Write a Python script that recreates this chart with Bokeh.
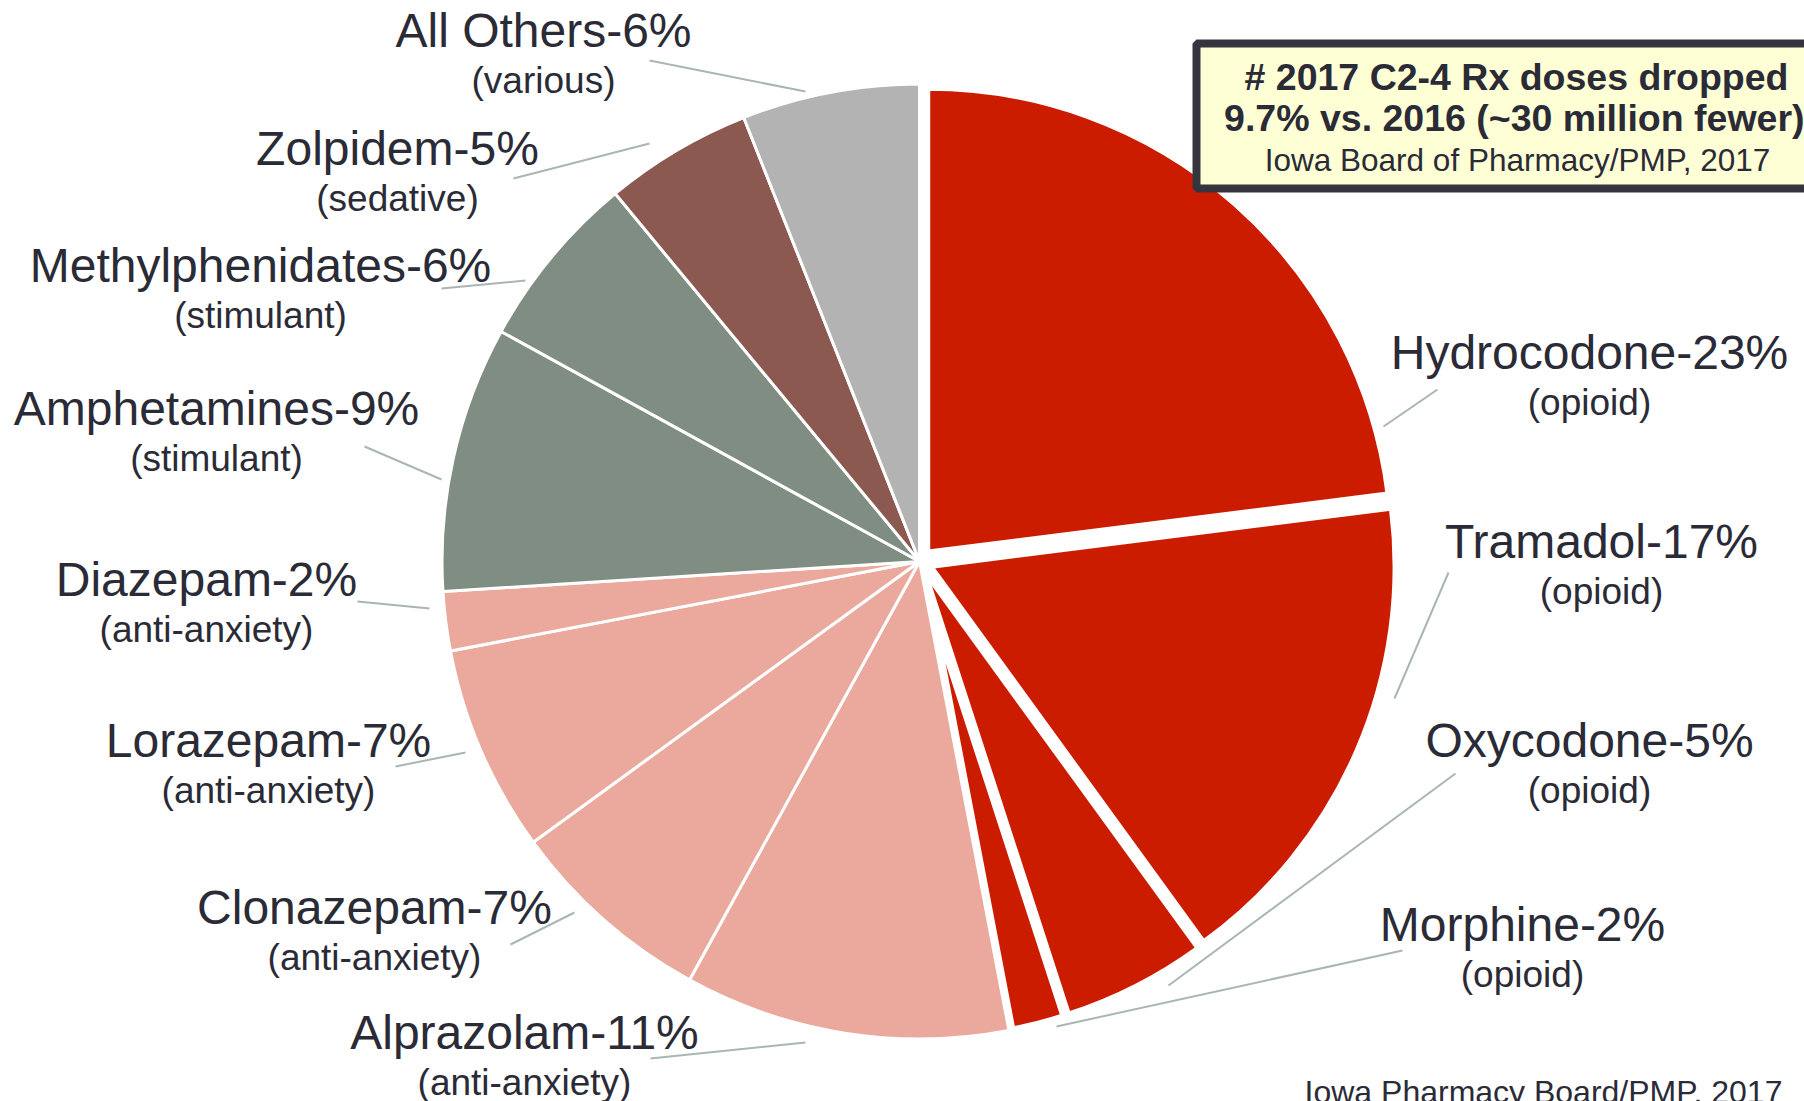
import math
from bokeh.plotting import figure
from bokeh.models import Range1d, ColumnDataSource
from bokeh.core.properties import value
from bokeh.embed import file_html
from bokeh.resources import INLINE

# ---------------- data ----------------
drugs = ["Hydrocodone", "Tramadol", "Oxycodone", "Morphine", "Alprazolam",
         "Clonazepam", "Lorazepam", "Diazepam", "Amphetamines",
         "Methylphenidates", "Zolpidem", "All Others"]
shares = [23, 17, 5, 2, 11, 7, 7, 2, 9, 6, 5, 6]
classes = ["opioid", "opioid", "opioid", "opioid", "anti-anxiety",
           "anti-anxiety", "anti-anxiety", "anti-anxiety", "stimulant",
           "stimulant", "sedative", "various"]
box_lines = ["# 2017 C2-4 Rx doses dropped",
             "9.7% vs. 2016 (~30 million fewer).",
             "Iowa Board of Pharmacy/PMP, 2017"]
source_note = "Iowa Pharmacy Board/PMP, 2017"

# ---------------- style / layout ----------------
W, H = 1804, 1101
PAGE_H = 1101
class_colors = {"opioid": "#CC1C00", "anti-anxiety": "#EAA99C",
                "stimulant": "#7F8D82", "sedative": "#8B5950",
                "various": "#B3B3B3"}
explode = {"Hydrocodone": 13.5, "Tramadol": 13.5, "Oxycodone": 16.0, "Morphine": 76.0}
CX, CY = 919, 561          # page px
R = 477.5
TEXT_COLOR = "#2a2b36"
LEADER_COLOR = "#a9b6b1"
FONT = "Liberation Sans"

# label layout: (x centre, y centre of main line) in page px
label_pos = {
    "All Others": (543, 30), "Zolpidem": (397, 148),
    "Methylphenidates": (260, 265), "Amphetamines": (216, 408),
    "Diazepam": (206, 579), "Lorazepam": (268, 740),
    "Clonazepam": (374, 907), "Alprazolam": (524, 1032),
    "Hydrocodone": (1589, 352), "Tramadol": (1601, 541),
    "Oxycodone": (1589, 740), "Morphine": (1522, 924),
}
SUB_DY = 49.5
leaders = {
    "All Others": (649, 60, 805, 91), "Zolpidem": (513, 178, 649, 143),
    "Methylphenidates": (441, 288, 525, 280), "Amphetamines": (364, 446, 441, 479),
    "Diazepam": (357, 601, 429, 608), "Lorazepam": (395, 766, 465, 752),
    "Clonazepam": (510, 944, 574, 912), "Alprazolam": (650, 1058, 805, 1042),
    "Hydrocodone": (1437, 389, 1383, 426), "Tramadol": (1448, 572, 1394, 698),
    "Oxycodone": (1455, 773, 1168, 985), "Morphine": (1402, 950, 1056, 1026),
}


def fy(y_page):
    return PAGE_H - y_page


p = figure(width=W, height=H, x_range=Range1d(0, W), y_range=Range1d(PAGE_H - H, PAGE_H),
           output_backend="svg", toolbar_location=None, min_border=0)
p.axis.visible = False
p.grid.visible = False
p.outline_line_color = None
p.background_fill_color = "white"
p.border_fill_color = "white"

# ---------------- pie ----------------
total = float(sum(shares))
cum = 0.0
xs, ys, rs, sa, ea, cols, lws = [], [], [], [], [], [], []
for name, v, c in zip(drugs, shares, classes):
    t1 = cum / total * 360.0
    cum += v
    t2 = cum / total * 360.0
    tm = math.radians((t1 + t2) / 2)
    d = explode.get(name, 0.0)
    xs.append(CX + d * math.sin(tm))
    ys.append(fy(CY) + d * math.cos(tm))
    rs.append(R - d - (1.5 if d else 0.0))
    sa.append(math.radians(90 - t2))
    ea.append(math.radians(90 - t1))
    cols.append(class_colors[c])
    lws.append(3.6 if d else 3.0)

src = ColumnDataSource(dict(x=xs, y=ys, r=rs, sa=sa, ea=ea, c=cols, lw=lws))
p.wedge(x="x", y="y", radius="r", start_angle="sa", end_angle="ea",
        fill_color="c", line_color="white", line_width="lw", source=src)

# ---------------- leaders & labels ----------------
lx0, ly0, lx1, ly1 = [], [], [], []
tx, ty, tt, sx, sy, st = [], [], [], [], [], []
for name, v, c in zip(drugs, shares, classes):
    a, b, e, f = leaders[name]
    lx0.append(a); ly0.append(fy(b)); lx1.append(e); ly1.append(fy(f))
    x, y = label_pos[name]
    tx.append(x); ty.append(fy(y)); tt.append(f"{name}-{v}%")
    sx.append(x); sy.append(fy(y + SUB_DY)); st.append(f"({c})")

p.segment(x0=lx0, y0=ly0, x1=lx1, y1=ly1, line_color=LEADER_COLOR, line_width=2)
p.text(x=tx, y=ty, text=tt, text_font=value(FONT), text_font_size="48px",
       text_align="center", text_baseline="middle", text_color=TEXT_COLOR)
p.text(x=sx, y=sy, text=st, text_font=value(FONT), text_font_size="37px",
       text_align="center", text_baseline="middle", text_color=TEXT_COLOR)

# ---------------- annotation box ----------------
p.quad(left=[1196], right=[1950], top=[fy(43)], bottom=[fy(188)],
       fill_color="#FFFFD5", line_color="#34353f", line_width=8)
p.text(x=[1516, 1519], y=[fy(76), fy(117)], text=box_lines[:2], text_font=value(FONT),
       text_font_size="37.5px", text_font_style="bold", text_align="center",
       text_baseline="middle", text_color=TEXT_COLOR)
p.text(x=[1517], y=[fy(159)], text=box_lines[2:], text_font=value(FONT),
       text_font_size="31.5px", text_align="center", text_baseline="middle",
       text_color=TEXT_COLOR)

p.text(x=[1543], y=[fy(1091)], text=[source_note], text_font=value(FONT),
       text_font_size="32px", text_align="center", text_baseline="middle",
       text_color=TEXT_COLOR)

open("out.html", "w").write(file_html(p, INLINE))
